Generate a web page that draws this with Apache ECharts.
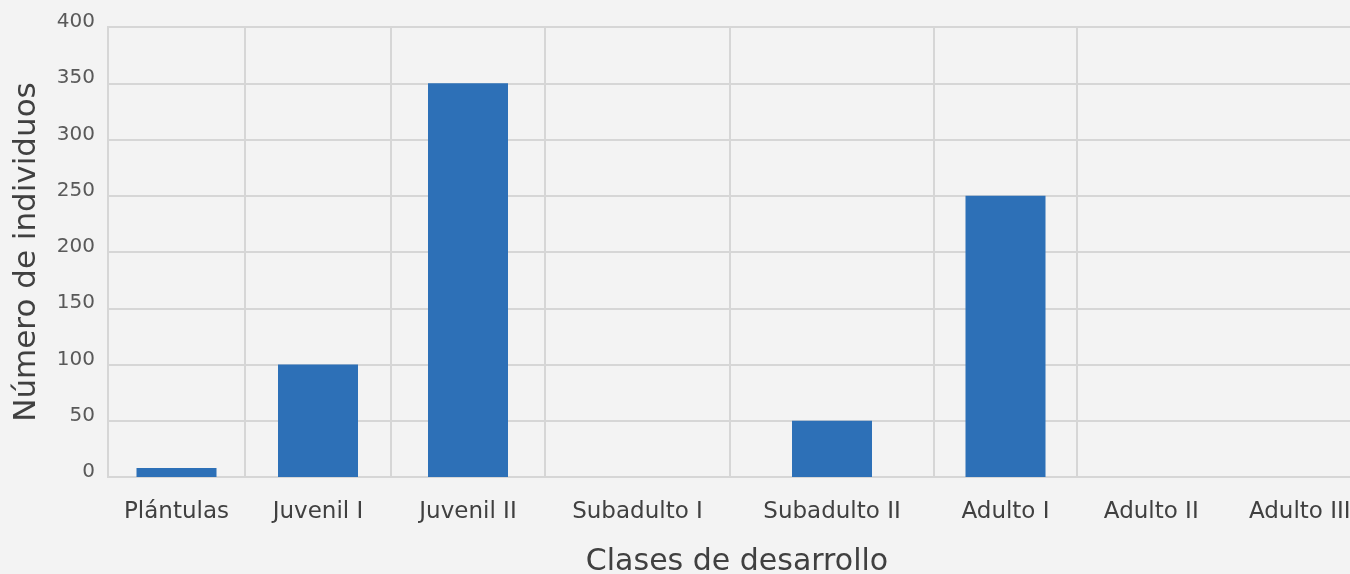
<!DOCTYPE html>
<html>
<head>
<meta charset="utf-8">
<script src="https://cdn.jsdelivr.net/npm/echarts@6/dist/echarts.min.js"></script>
<style>
html,body{margin:0;padding:0;background:#f3f3f3;}
#chart{width:1350px;height:574px;}
</style>
</head>
<body>
<div id="chart"></div>
<script>
// ---- data ----
const categories = ['Plántulas', 'Juvenil I', 'Juvenil II', 'Subadulto I', 'Subadulto II', 'Adulto I', 'Adulto II', 'Adulto III'];
const values = [8, 100, 350, 0, 50, 250, 0, 0];
const yMin = 0, yMax = 400, yStep = 50;
const xTitle = 'Clases de desarrollo';
const yTitle = 'Número de individuos';

// ---- layout (panels of unequal width, as in the reference) ----
const panelCats = [[0], [1], [2], [3], [4], [5], [6, 7]];
const panelEdges = [108, 245, 391, 545, 730, 934, 1077, 1374];
const plotTop = 27, plotHeight = 450;
const FONT = 'DejaVu Sans';
const GRID_C = '#d6d6d6';

const grids = [], xAxes = [], yAxes = [], series = [];
panelCats.forEach((idxs, p) => {
  grids.push({
    left: panelEdges[p], top: plotTop,
    width: panelEdges[p + 1] - panelEdges[p], height: plotHeight,
    show: true, borderColor: GRID_C, borderWidth: 2, backgroundColor: 'transparent',
    containLabel: false, outerBoundsMode: 'none'
  });
  xAxes.push({
    type: 'category', gridIndex: p,
    data: idxs.map(i => categories[i]),
    axisLine: {show: true, lineStyle: {color: GRID_C, width: 2}},
    axisTick: {show: false},
    splitLine: {show: false},
    axisLabel: {color: '#404040', fontFamily: FONT, fontSize: 23, margin: 24, interval: 0}
  });
  yAxes.push({
    type: 'value', gridIndex: p, min: yMin, max: yMax, interval: yStep,
    axisLine: {show: false}, axisTick: {show: false},
    splitLine: {show: true, lineStyle: {color: GRID_C, width: 2}},
    axisLabel: p === 0 ? {show: true, color: '#595959', fontFamily: FONT, fontSize: 20, margin: 13, verticalAlign: 'bottom', lineHeight: 10} : {show: false},
    name: p === 0 ? yTitle : '',
    nameLocation: 'middle', nameGap: 66,
    nameTextStyle: {color: '#404040', fontFamily: FONT, fontSize: 31}
  });
  series.push({
    type: 'bar', xAxisIndex: p, yAxisIndex: p,
    data: idxs.map(i => values[i]),
    barWidth: 80,
    itemStyle: {color: '#2d70b7'},
    silent: true
  });
});

const chart = echarts.init(document.getElementById('chart'), null, {renderer: 'canvas'});
chart.setOption({
  backgroundColor: '#f3f3f3',
  animation: false,
  title: {
    text: xTitle, left: 732, top: 542, textAlign: 'center',
    textStyle: {color: '#404040', fontFamily: FONT, fontSize: 30, fontWeight: 'normal'}
  },
  grid: grids, xAxis: xAxes, yAxis: yAxes, series: series
});
</script>
</body>
</html>
